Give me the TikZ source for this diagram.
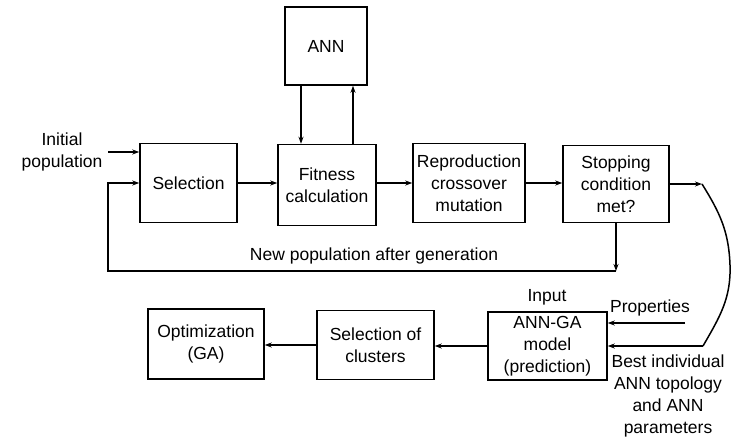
\documentclass[tikz,border=0pt]{standalone}
\usepackage{fontspec}
\setmainfont{Liberation Sans}
\usetikzlibrary{arrows.meta}
\tikzset{
  blk/.style={draw, line width=1.5pt, inner sep=0pt, align=center, font=\fontsize{17.5}{22}\selectfont},
  lbl/.style={inner sep=0pt, align=center, font=\fontsize{17.5}{22}\selectfont},
  arr/.style={line width=1.5pt, -{Stealth[length=7pt,width=5pt]}},
  ln/.style={line width=1.5pt}
}
\begin{document}
\begin{tikzpicture}[x=1pt,y=-1pt]
\useasboundingbox (0,0) rectangle (731,440);
% boxes
\node[blk, minimum width=82pt, minimum height=78pt] (ann) at (326,46) {ANN};
\node[blk, minimum width=97pt, minimum height=79pt] (sel) at (188.5,183) {Selection};
\node[blk, minimum width=98pt, minimum height=81pt] (fit) at (327,185) {Fitness\\calculation};
\node[blk, minimum width=112pt, minimum height=79pt] (rep) at (469,183) {Reproduction\\crossover\\mutation};
\node[blk, minimum width=106pt, minimum height=77pt] (stop) at (616,184) {Stopping\\condition\\met?};
\node[blk, minimum width=119pt, minimum height=68pt] (annga) at (547.5,346) {ANN-GA\\model\\(prediction)};
\node[blk, minimum width=117pt, minimum height=69pt] (clus) at (375.5,345) {Selection of\\clusters};
\node[blk, minimum width=116pt, minimum height=70pt] (opt) at (206,344) {Optimization\\(GA)};
% labels
\node[lbl] (init) at (62,152) {Initial\\population};
\node[lbl] (newpop) at (374,256) {New population after generation};
\node[lbl] (inp) at (547,297) {Input};
\node[lbl] (prop) at (650,308) {Properties};
\node[lbl] (best) at (668,396) {Best individual\\ANN topology\\and ANN\\parameters};
% coordinates
\coordinate (ipstart) at (108,152);
\coordinate (a1) at (301,110);
\coordinate (a2) at (353,110);
\coordinate (c1) at (702,184);
\coordinate (c2) at (730,265);
\coordinate (c3) at (703,346);
\coordinate (p1) at (685,323);
\coordinate (f1) at (616,271);
\coordinate (f2) at (108,271);
% connectors
\draw[arr] (ipstart) -- (ipstart -| sel.west);
\draw[arr] (sel.east) -- (sel.east -| fit.west);
\draw[arr] (fit.east |- rep.west) -- (rep.west);
\draw[arr] (rep.east) -- (rep.east -| stop.west);
\draw[arr] (ann.south -| a1) -- (fit.north -| a1);
\draw[arr] (fit.north -| a2) -- (ann.south -| a2);
\draw[arr] (stop.east |- c1) -- (c1);
\draw[ln] (c1) to[out=-58,in=92] (c2) to[out=-88,in=60] (c3);
\draw[arr] (c3) -- (c3 -| annga.east);
\draw[arr] (p1) -- (p1 -| annga.east);
\draw[arr] (stop.south) -- (f1);
\draw[arr] (f1) -- (f2) |- (sel.west);
\draw[arr] (annga.west) -- (annga.west -| clus.east);
\draw[arr] (clus.west) -- (clus.west -| opt.east);
\end{tikzpicture}
\end{document}
